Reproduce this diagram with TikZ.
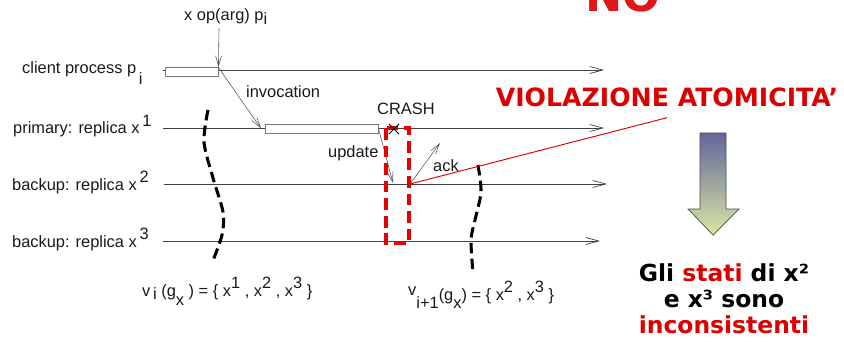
\documentclass[tikz,border=0pt]{standalone}
\usepackage{fontspec}
\setmainfont{Liberation Sans}
\newfontfamily\heavyfont{DejaVu Sans}
\usepackage{tikz}
\usetikzlibrary{
  positioning,
  arrows.meta,
  shapes.misc
}
\definecolor{linegray}{RGB}{64,64,64}
\definecolor{msggray}{RGB}{90,90,90}
\definecolor{boxgray}{RGB}{120,120,120}
\definecolor{crashred}{RGB}{230,0,0}
\definecolor{alertred}{RGB}{220,0,0}
\definecolor{shafttop}{RGB}{100,100,156}
\definecolor{shaftbottom}{RGB}{216,232,162}
\definecolor{logored}{RGB}{222,24,24}
\tikzset{
  timeline/.style={
    draw=linegray, line width=0.6pt,
    -{Straight Barb[length=11pt, width=6pt]}
  },
  msgarrow/.style={
    draw=msggray, line width=0.5pt,
    -{Straight Barb[length=9pt, width=5pt]}
  },
  textlabel/.style={
    font=\fontsize{14}{16}\selectfont, text=black!90,
    inner sep=0pt, anchor=base west
  },
  execbox/.style={
    draw=boxgray, line width=0.7pt, fill=white,
    inner sep=0pt, minimum height=0.25cm
  },
  crashmark/.style={
    draw=black, cross out, line width=0.7pt,
    minimum size=0.28cm, inner sep=0pt
  },
  crashbox/.style={
    draw=crashred, line width=3pt, dash pattern=on 10pt off 5pt
  },
  viewcut/.style={
    draw=black, line width=2.6pt, dash pattern=on 9pt off 4.5pt
  },
  alertline/.style={
    draw=alertred, line width=0.8pt
  },
  alerttext/.style={
    font=\heavyfont\bfseries\fontsize{21.5}{24}\selectfont, text=alertred
  },
  resulttext/.style={
    font=\heavyfont\bfseries\fontsize{20}{22}\selectfont, align=center
  },
  downarrow/.style={
    draw=black!70, line width=0.6pt,
    top color=shafttop, bottom color=shaftbottom
  }
}

\begin{document}
\begin{tikzpicture}[x=0.03cm, y=-0.03cm]
  \useasboundingbox (0,0) rectangle (844,342);

  % NO logo, cut by the top edge
  \begin{scope}
    \clip (0,0) rectangle (844,20);
    \node[font=\heavyfont\bfseries\fontsize{38}{40}\selectfont, text=logored,
      inner sep=0pt, anchor=base west] (logo) at (585,12) {NO};
  \end{scope}

  % Process names
  \node[textlabel] (client) at (22,74) {client process p\,\raisebox{-9pt}{i}};
  \node[textlabel] (primary) at (13,134) {primary: replica x\,\raisebox{6pt}{1}};
  \node[textlabel] (backup2) at (12,190) {backup: replica x\,\raisebox{6pt}{2}};
  \node[textlabel] (backup3) at (12,247) {backup: replica x\,\raisebox{6pt}{3}};

  % Timelines
  \coordinate (cstart) at (163,70);  \coordinate (cend) at (604,70);
  \coordinate (pstart) at (163,128); \coordinate (pend) at (604,128);
  \coordinate (bstart) at (164,184); \coordinate (bend) at (607,184);
  \coordinate (tstart) at (163,241); \coordinate (tend) at (600,241);
  \draw[timeline] (cstart) -- (cend);
  \draw[timeline] (pstart) -- (pend);
  \draw[timeline] (bstart) -- (bend);
  \draw[timeline] (tstart) -- (tend);

  % Executions
  \node[execbox, minimum width=1.59cm] (crun) at (191.5,72) {};
  \node[execbox, minimum width=3.39cm, minimum height=0.27cm] (prun) at (321.5,128.5) {};

  % Messages
  \node[textlabel] (oplbl) at (184,21) {x op(arg) p\raisebox{-3pt}{i}};
  \coordinate (opstart) at (219,28);
  \draw[msgarrow] (opstart) -- (crun.north east);
  \draw[msgarrow] (crun.north east) -- ([xshift=-3pt]prun.west);
  \node[textlabel] (invlbl) at (246,98) {invocation};

  \coordinate (updend) at (393,183);
  \draw[msgarrow] (prun.east) -- (updend);
  \node[textlabel] (updlbl) at (328,157) {update};

  \coordinate (ackstart) at (410,184);
  \coordinate (ackend) at (440,143);
  \draw[msgarrow] (ackstart) -- (ackend);
  \node[textlabel] (acklbl) at (433,172) {ack};

  % Crash of the primary
  \draw[crashbox] (386,128) rectangle (409,243);
  \node[crashmark] (crash) at (394,129) {};
  \node[textlabel] (crashlbl) at (377,115) {CRASH};

  % View changes
  \draw[viewcut] plot[smooth] coordinates {(208,110) (204,142) (213,178) (223,212) (222,235) (212,263)};
  \draw[viewcut] plot[smooth] coordinates {(478,165) (481,192) (475,220) (471,240) (473,273)};
  \node[textlabel] (view1) at (142,296) {v\raisebox{3pt}{\,}\raisebox{-3pt}{i} (g\raisebox{-8pt}{x} ) = \{ x\raisebox{6pt}{1} , x\raisebox{6pt}{2} , x\raisebox{6pt}{3} \}};
  \node[textlabel] (view2) at (408,300) {\raisebox{4pt}{v}\raisebox{-7pt}{i+1}(g\raisebox{-7pt}{x}) = \{ x\raisebox{6pt}{2} , x\raisebox{6pt}{3} \}};

  % Atomicity violation
  \node[alerttext] (viol) at (667,97) {VIOLAZIONE ATOMICITA’};
  \draw[alertline] (ackstart) -- ([yshift=-6pt]viol.south);

  \path[downarrow] (700,133) -- (726,133) -- (726,209) -- (739,209)
    -- (713,235) -- (688,209) -- (700,209) -- cycle;

  \node[resulttext] (result) at (724,299) {Gli \textcolor{alertred}{stati} di x²\\
    e x³ sono\\
    \textcolor{alertred}{inconsistenti}};

\end{tikzpicture}
\end{document}
